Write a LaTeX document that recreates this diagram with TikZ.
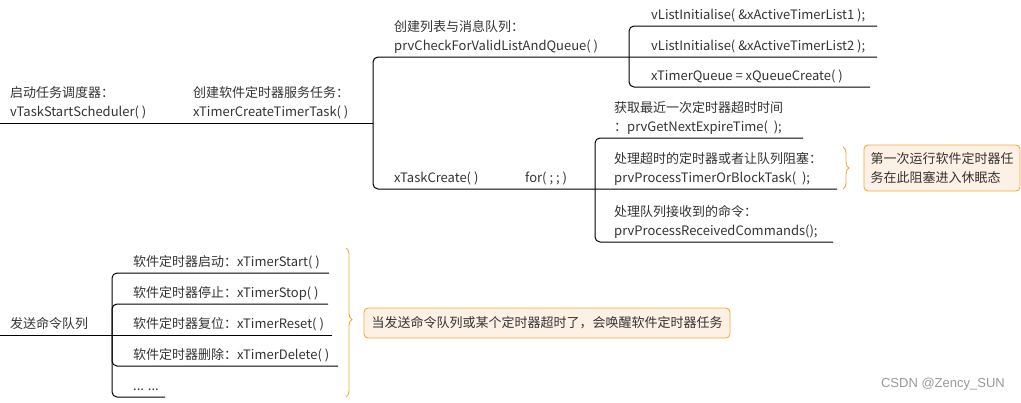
\documentclass[tikz,border=0pt]{standalone}
\usepackage{fontspec}
\setmainfont{Noto Sans CJK SC}
\newfontfamily\markfont{Liberation Sans}
\usetikzlibrary{decorations.pathreplacing}
\definecolor{notebrd}{RGB}{245,170,50}
\definecolor{notefill}{RGB}{253,241,229}
\definecolor{inktext}{RGB}{51,51,51}
\tikzset{
  lbl/.style={anchor=base west,inner sep=0pt,align=left,text=inktext,font=\fontsize{13}{19}\selectfont},
  branch/.style={line width=1pt,rounded corners=5pt},
  note/.style={draw=notebrd,fill=notefill,rounded corners=4pt,line width=0.9pt,inner sep=0pt,
    text=inktext,font=\fontsize{13}{19}\selectfont,align=left},
  bracenote/.style={draw=notebrd,line width=0.9pt,decorate,decoration={brace,amplitude=6pt}}
}
\begin{document}
\begin{tikzpicture}[x=1pt,y=-1pt]
        \useasboundingbox (0,0) rectangle (1021,402);
        % labels of the timer task
        \path (10,116) node[lbl](sched){启动任务调度器：\\vTaskStartScheduler( )}
              (193,116) node[lbl](timertask){创建软件定时器服务任务：\\xTimerCreateTimerTask( )}
              (394,50) node[lbl](check){创建列表与消息队列：\\prvCheckForValidListAndQueue( )}
              (651,19) node[lbl](list1){vListInitialise( \&xActiveTimerList1 );}
              (651,50) node[lbl](list2){vListInitialise( \&xActiveTimerList2 );}
              (651,80) node[lbl](queue){xTimerQueue = xQueueCreate( )}
              (394,182) node[lbl](taskcreate){xTaskCreate( )}
              (525,182) node[lbl](forever){for( ; ; )}
              (614,131) node[lbl](expire){获取最近一次定时器超时时间\\：prvGetNextExpireTime(~~);}
              (614,182) node[lbl](block){处理超时的定时器或者让队列阻塞：\\prvProcessTimerOrBlockTask(~~);}
              (614,235) node[lbl](received){处理队列接收到的命令：\\prvProcessReceivedCommands();};
        \path (0,123) coordinate(rootA) (373,123) coordinate(forkA)
              (629,57) coordinate(forkB) (595,189) coordinate(forkC)
              (877,57) coordinate(endA) (837,189) coordinate(endC)
              (877,26) coordinate(endB1) (870,87) coordinate(endB3)
              (803,138) coordinate(endC1) (833,242) coordinate(endC3);
        \draw[branch] (rootA) -- (forkA);
        \draw[branch] (forkA) |- (endA);
        \draw[branch] (forkA) |- (endC);
        \draw[branch] (forkB) |- (endB1);
        \draw[branch] (forkB) |- (endB3);
        \draw[branch] (forkC) |- (endC1);
        \draw[branch] (forkC) |- (endC3);
        \path (843,147) coordinate(braceAt) (843,189) coordinate(braceAb);
        \draw[bracenote] (braceAt) -- (braceAb);
        \path (942,168) node[note,minimum width=156pt,minimum height=46pt](sleep){第一次运行软件定时器任\\务在此阻塞进入休眠态};

        % labels of the command queue
        \path (10,328) node[lbl](send){发送命令队列}
              (133,266) node[lbl](tstart){软件定时器启动：xTimerStart( )}
              (133,297) node[lbl](tstop){软件定时器停止：xTimerStop( )}
              (133,328) node[lbl](treset){软件定时器复位：xTimerReset( )}
              (133,359) node[lbl](tdelete){软件定时器删除：xTimerDelete( )}
              (133,390) node[lbl](tmore){... ...};
        \path (0,335) coordinate(rootD) (112,335) coordinate(forkD)
              (329,273) coordinate(endD1) (328,304) coordinate(endD2) (332,335) coordinate(endD3)
              (338,366) coordinate(endD4) (165,397) coordinate(endD5);
        \draw[branch] (rootD) -- (endD3);
        \foreach \e in {endD1,endD2,endD4,endD5}
            \draw[branch] (forkD) |- (\e);
        \path (346,248) coordinate(braceDt) (346,397) coordinate(braceDb);
        \draw[bracenote,decoration={aspect=0.48}] (braceDt) -- (braceDb);
        \path (547,323) node[note,minimum width=366pt,minimum height=30pt](wake){当发送命令队列或某个定时器超时了，会唤醒软件定时器任务};

        \path (1005,384) node[anchor=east,inner sep=0pt,text=black!40,font=\markfont\fontsize{13}{15}\selectfont](mark){CSDN @Zency\_SUN};
\end{tikzpicture}
\end{document}
